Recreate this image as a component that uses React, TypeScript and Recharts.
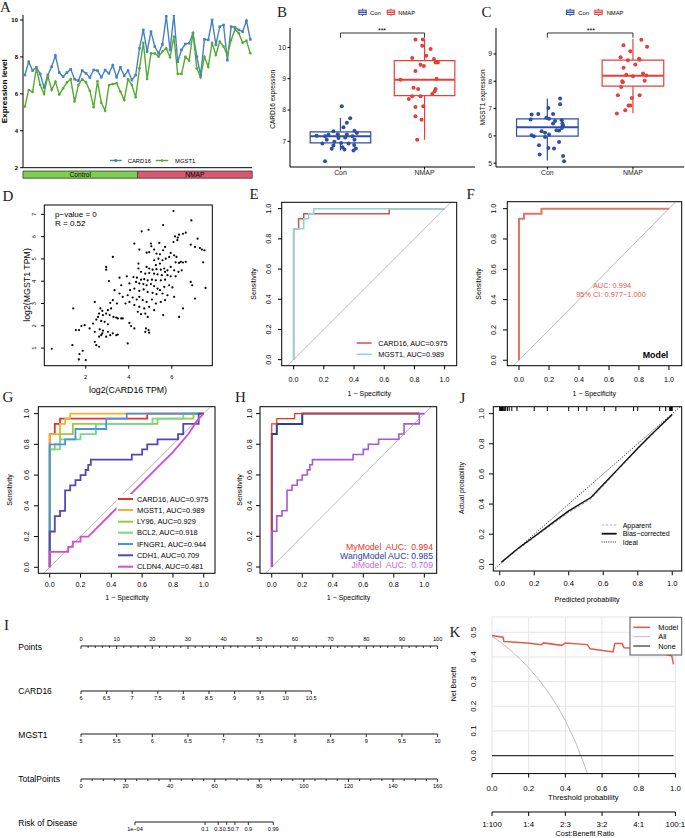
import React from 'react';
import {
  ComposedChart,
  Line,
  Scatter,
  XAxis,
  YAxis,
  ReferenceArea,
  ReferenceLine,
  CartesianGrid,
} from 'recharts';

const SANS = '"Liberation Sans", Arial, Helvetica, sans-serif';
const SERIF = '"Liberation Serif", "Times New Roman", serif';

// ---------- A: expression of the two genes per sample ----------
const card16Expr = [
  7.02, 7.73, 7.26, 7.44, 7.08, 6.35, 7.02, 7.47, 8.07, 7.15, 6.93, 7.15, 7.33, 6.79, 6.71,
  7.26, 7.11, 6.88, 7.29, 7.26, 6.9, 7.29, 7.11, 7.55, 6.9, 7.44, 6.97, 7.26, 6.75, 7.02,
  8.47, 9.46, 8.29, 9.37, 8.56, 8.19, 8.68, 10.2, 8.38, 10.27, 7.74, 8.38, 8.7, 8.74, 9.28,
  8.01, 7.02, 8.95, 8.92, 10.0, 8.65, 9.64, 9.73, 7.83, 9.64, 9.6, 9.46, 9.37, 9.96, 8.95,
];
const mgst1Expr = [
  5.31, 6.21, 6.1, 7.38, 6.48, 5.99, 6.97, 6.21, 6.66, 5.96, 6.3, 6.62, 6.8, 5.58, 6.48,
  6.79, 6.62, 6.17, 5.27, 6.68, 5.52, 5.09, 6.48, 6.53, 6.57, 6.12, 5.67, 6.79, 6.48, 5.81,
  7.38, 8.77, 6.8, 8.19, 8.19, 8.01, 8.29, 8.47, 7.98, 9.1, 7.08, 7.08, 8.01, 7.8, 9.31,
  7.38, 6.9, 8.01, 7.47, 8.77, 8.1, 8.83, 8.56, 8.1, 8.92, 9.49, 9.28, 8.77, 8.88, 8.2,
];
const sampleGroups = [
  { name: 'Control', from: 0.5, to: 30.5 },
  { name: 'NMAP', from: 30.5, to: 60.5 },
];
const exprRows = card16Expr.map((v, i) => ({ x: i + 1, card16: v, mgst1: mgst1Expr[i] }));

// ---------- B / C: boxplots  [low whisker, q1, median, q3, high whisker] ----------
const groups = ['Con', 'NMAP'];
const card16Box = [
  [6.71, 6.95, 7.16, 7.3, 7.75],
  [7.05, 8.46, 8.97, 9.58, 10.25],
];
const mgst1Box = [
  [5.1, 5.99, 6.32, 6.62, 7.37],
  [6.83, 7.82, 8.2, 8.77, 9.55],
];
// jittered points: [offset from group centre, value]
const card16Con = [
  [0.016, 8.12], [0.116, 7.74], [0.076, 7.59], [0.036, 7.45], [0.167, 7.34], [-0.084, 7.32],
  [0.195, 7.27], [-0.143, 7.21], [-0.032, 7.23], [0.076, 7.22], [-0.283, 7.18], [-0.183, 7.16],
  [0.143, 7.16], [-0.024, 7.11], [0.056, 7.12], [-0.163, 7.05], [0.167, 7.05], [-0.072, 6.99],
  [0.008, 6.95], [0.096, 6.93], [-0.215, 6.93], [-0.084, 6.87], [0.163, 6.88], [0.024, 6.81],
  [-0.104, 6.76], [0.183, 6.77], [0.048, 6.74], [0.155, 6.71], [-0.183, 6.36],
];
const card16Nmap = [
  [-0.108, 10.25], [-0.02, 10.25], [-0.028, 10.05], [0.072, 9.95], [0.02, 9.73], [-0.147, 9.66],
  [0.112, 9.63], [0.131, 9.52], [0.159, 9.52], [-0.048, 9.45], [-0.008, 9.41], [-0.108, 9.25],
  [-0.287, 8.97], [0.143, 9.0], [-0.131, 8.71], [-0.076, 8.67], [0.131, 8.67], [0.12, 8.6],
  [0.092, 8.51], [-0.147, 8.44], [-0.048, 8.44], [-0.187, 8.35], [-0.108, 8.1], [-0.016, 8.12],
  [-0.108, 7.8], [-0.036, 7.69], [-0.088, 7.05],
];
const mgst1Con = [
  [0.149, 7.37], [0.149, 7.16], [0.012, 7.02], [-0.184, 6.78], [-0.106, 6.8], [0.067, 6.8],
  [-0.012, 6.66], [0.02, 6.63], [-0.196, 6.6], [0.169, 6.57], [0.09, 6.54], [0.067, 6.45],
  [0.176, 6.45], [0.184, 6.38], [0.169, 6.29], [-0.067, 6.17], [-0.027, 6.11], [0.106, 6.21],
  [0.137, 6.2], [-0.184, 6.02], [-0.157, 5.99], [-0.027, 5.96], [0.02, 6.05], [0.176, 6.35],
  [-0.098, 5.66], [0.137, 5.78], [0.012, 5.56], [0.078, 5.54], [-0.09, 5.32], [0.184, 5.26],
  [0.196, 5.07],
];
const mgst1Nmap = [
  [0.098, 9.52], [-0.11, 9.32], [0.165, 9.26], [-0.031, 9.1], [-0.145, 8.88], [-0.059, 8.77],
  [0.078, 8.79], [0.071, 8.82], [0.027, 8.61], [-0.11, 8.49], [0.118, 8.28], [-0.078, 8.24],
  [0, 8.18], [0.157, 8.21], [-0.125, 8.0], [-0.118, 7.96], [0.137, 8.02], [-0.137, 7.79],
  [-0.176, 7.49], [0.078, 7.49], [-0.012, 7.39], [-0.051, 7.11], [-0.031, 7.11], [-0.09, 6.94],
  [-0.188, 6.82],
];

// ---------- D: log2(CARD16 TPM) vs log2(MGST1 TPM) ----------
const tpmPairs = [
  [6.08, 7.15], [6.91, 6.73], [5.6, 6.52], [4.92, 6.31], [4.6, 6.24], [6.65, 6.18], [6.52, 6.13],
  [6.34, 6.09], [6.15, 6.01], [6.28, 5.96], [6.26, 5.84], [6.08, 5.76], [7.2, 5.91], [4.26, 5.69],
  [5.42, 5.72], [5.03, 5.69], [5.05, 5.57], [6.88, 5.64], [7.31, 5.49], [7.4, 5.42], [7.52, 5.39],
  [7.08, 5.54], [5.6, 5.39], [5.69, 5.54], [5.18, 5.42], [4.83, 5.28], [4.95, 5.31], [5.29, 5.24],
  [5.45, 5.21], [4.49, 5.42], [3.26, 5.09], [5.95, 5.27], [6.11, 5.16], [6.22, 5.09], [6.42, 4.87],
  [6.52, 4.84], [6.65, 4.87], [6.34, 4.82], [6.18, 4.85], [7.46, 4.85], [5.88, 5.09], [5.72, 5.01],
  [5.57, 4.94], [5.38, 5.01], [5.18, 4.94], [5.45, 4.79], [5.26, 4.72], [4.45, 4.79], [2.95, 4.64],
  [2.95, 4.52], [4.83, 4.64], [4.95, 4.57], [5.11, 4.52], [5.29, 4.54], [5.49, 4.52], [5.65, 4.57],
  [5.8, 4.49], [5.69, 4.42], [5.95, 4.64], [6.11, 4.49], [6.31, 4.42], [6.46, 4.49], [4.45, 4.57],
  [4.57, 4.42], [4.77, 4.34], [4.95, 4.37], [5.18, 4.34], [5.34, 4.31], [5.54, 4.27], [5.8, 4.27],
  [5.95, 4.22], [6.18, 4.22], [4.22, 4.19], [4.38, 4.16], [4.57, 4.07], [4.72, 4.09], [4.88, 4.04],
  [5.08, 4.07], [5.26, 4.04], [5.49, 4.04], [5.69, 4.07], [3.57, 4.16], [3.91, 4.22], [3.08, 4.01],
  [4.34, 3.97], [4.49, 3.9], [4.68, 3.87], [4.83, 3.82], [5.03, 3.87], [5.18, 3.78], [5.34, 3.67],
  [5.45, 3.6], [5.65, 3.75], [5.88, 3.82], [6.03, 3.72], [6.88, 3.97], [6.95, 3.82], [7.57, 3.7],
  [3.65, 3.82], [4.03, 3.9], [4.26, 3.67], [4.06, 3.6], [4.49, 3.57], [4.69, 3.63], [4.88, 3.52],
  [5.11, 3.48], [5.29, 3.42], [5.57, 3.45], [5.8, 3.37], [6.11, 3.3], [7.08, 3.22], [3.34, 3.6],
  [3.57, 3.45], [3.72, 3.3], [3.95, 3.37], [4.18, 3.27], [4.37, 3.18], [4.49, 3.3], [4.65, 3.15],
  [4.83, 3.07], [5.08, 3.18], [5.26, 3.0], [5.49, 3.07], [5.69, 3.15], [3.26, 3.15], [3.14, 3.03],
  [3.45, 3.0], [3.85, 3.0], [4.03, 3.07], [4.26, 2.93], [4.49, 2.85], [4.72, 2.78], [4.95, 2.85],
  [5.18, 2.7], [5.6, 2.48], [6.52, 2.78], [4.42, 2.63], [4.57, 2.52], [4.77, 2.55], [4.88, 2.4],
  [1.42, 2.78], [2.42, 3.07], [2.68, 2.78], [2.77, 2.67], [3.03, 2.7], [3.18, 2.78], [2.95, 2.55],
  [2.62, 2.55], [2.57, 2.4], [2.8, 2.48], [3.11, 2.48], [3.29, 2.4], [3.49, 2.33], [3.65, 2.33],
  [3.72, 2.33], [3.42, 2.37], [2.34, 2.1], [2.49, 2.28], [2.72, 2.22], [2.88, 2.18], [3.03, 2.07],
  [4.03, 2.13], [4.11, 1.99], [4.26, 1.88], [4.8, 1.88], [4.77, 1.73], [4.92, 1.81], [4.95, 1.69],
  [6.34, 2.4], [1.95, 2.03], [1.8, 1.99], [1.54, 1.81], [1.69, 1.81], [2.18, 1.88], [2.42, 1.73],
  [2.65, 1.84], [2.8, 1.78], [3.03, 1.73], [3.26, 1.66], [3.42, 1.58], [2.72, 1.58], [2.95, 1.51],
  [3.14, 1.58], [2.62, 1.51], [2.77, 1.66], [2.42, 1.28], [2.49, 1.13], [2.62, 1.06], [3.95, 1.21],
  [3.49, 1.61], [1.38, 1.13], [0.42, 0.97], [1.86, 0.88], [1.71, 0.73], [1.68, 0.49], [2.0, 0.46],
];

// ---------- ROC curves: [1 - specificity, sensitivity] ----------
const rocCard16 = [[0, 0], [0, 0.867], [0.033, 0.867], [0.033, 0.933], [0.067, 0.933], [0.067, 0.967], [0.633, 0.967], [0.633, 1], [1, 1]];
const rocMgst1 = [[0, 0], [0, 0.867], [0.067, 0.867], [0.067, 0.933], [0.1, 0.933], [0.1, 0.967], [0.133, 0.967], [0.133, 1], [1, 1]];
const rocModel = [[0, 0], [0, 0.933], [0.033, 0.933], [0.033, 0.967], [0.15, 0.967], [0.15, 1], [1, 1]];
const rocLy96 = [[0, 0], [0, 0.767], [0.033, 0.767], [0.033, 0.8], [0.067, 0.8], [0.067, 0.867], [0.15, 0.867], [0.15, 0.933], [0.7, 0.933], [0.7, 0.967], [0.933, 0.967], [0.933, 1], [1, 1]];
const rocBcl2 = [[0, 0], [0, 0.767], [0.067, 0.767], [0.067, 0.833], [0.2, 0.833], [0.2, 0.867], [0.3, 0.867], [0.3, 0.933], [0.667, 0.933], [0.667, 0.967], [0.867, 0.967], [0.867, 1], [1, 1]];
const rocIfngr1 = [[0, 0], [0, 0.8], [0.1, 0.8], [0.1, 0.833], [0.167, 0.833], [0.167, 0.9], [0.367, 0.9], [0.367, 0.967], [0.5, 0.967], [0.5, 1], [1, 1]];
const rocCdh1 = [
  [0, 0], [0, 0.233], [0.033, 0.233], [0.033, 0.333], [0.067, 0.333], [0.067, 0.367], [0.1, 0.367],
  [0.1, 0.5], [0.133, 0.5], [0.133, 0.533], [0.167, 0.533], [0.167, 0.567], [0.2, 0.567], [0.2, 0.6],
  [0.233, 0.6], [0.233, 0.633], [0.25, 0.633], [0.25, 0.667], [0.267, 0.667], [0.267, 0.7], [0.533, 0.7],
  [0.533, 0.733], [0.6, 0.733], [0.6, 0.767], [0.633, 0.767], [0.633, 0.8], [0.7, 0.8], [0.7, 0.833],
  [0.833, 0.833], [0.833, 0.867], [0.867, 0.867], [0.867, 0.933], [0.967, 0.933], [0.967, 1], [1, 1],
];
const rocCldn4 = [
  [0, 0], [0, 0.1], [0.12, 0.1], [0.12, 0.133], [0.15, 0.133], [0.15, 0.167], [0.2, 0.167], [0.2, 0.2],
  [0.25, 0.2], [0.3, 0.25], [0.4, 0.35], [0.5, 0.45], [0.6, 0.55], [0.7, 0.65], [0.8, 0.75],
  [0.9, 0.867], [0.967, 0.967], [1, 1],
];
const rocWang = [[0, 0], [0, 0.867], [0.033, 0.867], [0.033, 0.933], [0.2, 0.933], [0.2, 1], [0.967, 1]];

const geneNames = ['CARD16', 'MGST1', 'LY96', 'BCL2', 'IFNGR1', 'CDH1', 'CLDN4'];
const geneAuc = ['0.975', '0.989', '0.929', '0.918', '0.944', '0.709', '0.481'];
const geneCurves = [rocCard16, rocMgst1, rocLy96, rocBcl2, rocIfngr1, rocCdh1, rocCldn4];
const geneColors = ['#E8312B', '#EDB230', '#9CCB3A', '#74D98F', '#4B93DA', '#5347B2', '#D64BD1'];

const modelNames = ['MyModel  AUC:  0.994', 'WangModel AUC: 0.985', 'JiModel  AUC:  0.709'];
const modelCurves = [rocModel, rocWang, rocCdh1];

// ---------- J: calibration ----------
const calX = [0.01, 0.1, 0.2, 0.3, 0.4, 0.53, 0.6, 0.7, 0.8, 0.9, 1.0];
const calBias = [0.015, 0.1, 0.185, 0.27, 0.355, 0.445, 0.53, 0.65, 0.77, 0.885, 0.995];
const calApparent = [0.012, 0.093, 0.178, 0.262, 0.345, 0.435, 0.52, 0.643, 0.765, 0.882, 0.99];
const calRug = [0, 0.003, 0.006, 0.01, 0.013, 0.016, 0.02, 0.025, 0.03, 0.035, 0.045, 0.055, 0.07, 0.1, 0.2, 0.276, 0.4, 0.456, 0.505, 0.606, 0.673, 0.776, 0.8, 0.927, 0.962, 0.985, 0.99, 0.993, 0.996, 1.0];

// ---------- I: nomogram scales ----------
const pointsTicks = Array.from({ length: 51 }, (_, i) => i * 2);
const card16Scale = [6, 6.5, 7, 7.5, 8, 8.5, 9, 9.5, 10, 10.5];
const mgst1Scale = [5, 5.5, 6, 6.5, 7, 7.5, 8, 8.5, 9, 9.5, 10];
const totalTicks = Array.from({ length: 33 }, (_, i) => i * 5);
const riskLabels = ['1e\u221204', '0.1', '0.3', '0.5', '0.7', '0.9', '0.99'];
const riskAtPoints = [24.4, 55.8, 61.7, 65.5, 69.2, 75.2, 86.4];

// ---------- K: decision curve ----------
const dcaModel = [
  [0, 0.487], [0.06, 0.48], [0.065, 0.463], [0.19, 0.457], [0.27, 0.45], [0.28, 0.457], [0.38, 0.447],
  [0.4, 0.457], [0.52, 0.45], [0.535, 0.433], [0.66, 0.42], [0.67, 0.455], [0.71, 0.455], [0.72, 0.437],
  [0.8, 0.435], [0.9, 0.42], [0.95, 0.41], [0.98, 0.405], [0.99, 0.37],
];
const dcaAll = [
  [0, 0.485], [0.05, 0.458], [0.1, 0.428], [0.15, 0.394], [0.2, 0.356], [0.25, 0.313], [0.3, 0.264],
  [0.35, 0.208], [0.4, 0.142], [0.45, 0.064], [0.5, -0.03], [0.52, -0.073],
];
const dcaNone = [[0, 0], [0.99, 0]];
const thresholdTicks = [0, 0.2, 0.4, 0.6, 0.8, 1];
const costBenefit = ['1:100', '1:4', '2:3', '3:2', '4:1', '100:1'];

// ---------- styling ----------
const A_BLUE = '#4682C0';
const A_GREEN = '#55AA2F';
const stripFill = ['#7DCF4D', '#D9586F'];
const grpColors = ['#2F4FA5', '#E2413A'];
const E_RED = '#CF5547';
const E_CYAN = '#8AD5DA';
const F_RED = '#E57563';
const H_COLORS = ['#E8341F', '#2A3C9C', '#A857D6'];
const H_TEXT = ['#E8341F', '#2A3C9C', '#C46AE6'];
const H_WIDTH = [1.2, 2, 1.6];
const K_RED = '#E35A4D';

const unitTicks = [0, 0.2, 0.4, 0.6, 0.8, 1];
const f1 = (v: number) => v.toFixed(1);
const fi = (v: number) => String(v);
const toXY = (pts: number[][]) => pts.map(([x, y]) => ({ x, y }));

type Box = { l: number; t: number; r: number; b: number };
const place = (box: Box, yw: number, xh: number, mt = 1, mr = 1) => ({
  style: { position: 'absolute' as const, left: box.l - yw, top: box.t - mt },
  width: box.r - box.l + yw + mr,
  height: box.b - box.t + mt + xh,
  margin: { top: mt, right: mr, bottom: 0, left: 0 },
});

const bottomTick = (fs: number, fmt: (v: any) => string, fill = '#000') => (p: any) => (
  <text x={p.x} y={p.y} dy="0.71em" textAnchor="middle" fontSize={fs} fontFamily={SANS} fill={fill}>
    {fmt(p.payload.value)}
  </text>
);
const leftTick = (fs: number, fmt: (v: any) => string, fill = '#000', bold = false) => (p: any) => (
  <text x={p.x} y={p.y} dy="0.35em" textAnchor="end" fontSize={fs} fontFamily={SANS} fill={fill} fontWeight={bold ? 'bold' : 'normal'}>
    {fmt(p.payload.value)}
  </text>
);
const rotTick = (fs: number, fmt: (v: any) => string) => (p: any) => (
  <text x={p.x} y={p.y} textAnchor="middle" fontSize={fs} fontFamily={SANS} fill="#000" transform={`rotate(-90 ${p.x} ${p.y})`}>
    {fmt(p.payload.value)}
  </text>
);
const dotShape = (c: string, r: number) => (p: any) => <circle cx={p.cx} cy={p.cy} r={r} fill={c} />;

function PanelA() {
  const p = place({ l: 23.3, t: 15, r: 252.5, b: 167.7 }, 20, 14, 2, 2);
  return (
    <div style={p.style}>
      <ComposedChart width={p.width} height={p.height} margin={p.margin} data={exprRows}>
        <XAxis type="number" dataKey="x" domain={[0.5, 60.5]} allowDataOverflow ticks={exprRows.map((r) => r.x)} interval={0} tick={false} tickSize={3} tickLine={{ stroke: '#000', strokeWidth: 1.4 }} axisLine={{ stroke: '#000' }} height={14} />
        <YAxis type="number" domain={[2, 10.27]} allowDataOverflow ticks={[2, 4, 6, 8, 10]} interval={0} width={20} tickSize={3} tickMargin={2} tick={leftTick(6, fi, '#000', true)} tickLine={{ stroke: '#000' }} axisLine={{ stroke: '#000' }} />
        {sampleGroups.map((g, i) => (
          <ReferenceArea key={g.name} x1={g.from} x2={g.to} y1={1.43} y2={1.82} ifOverflow="visible" fill={stripFill[i]} fillOpacity={1} stroke="#3a3a3a" strokeWidth={0.8}
            label={{ value: g.name, position: 'center', fontSize: 6.7, fill: '#000', fontFamily: SANS }} />
        ))}
        <Line dataKey="card16" stroke={A_BLUE} strokeWidth={1.4} isAnimationActive={false}
          dot={(d: any) => <rect key={`c${d.index}`} x={d.cx - 1.3} y={d.cy - 1.3} width={2.6} height={2.6} fill={A_BLUE} />} />
        <Line dataKey="mgst1" stroke={A_GREEN} strokeWidth={1.4} isAnimationActive={false}
          dot={(d: any) => <circle key={`m${d.index}`} cx={d.cx} cy={d.cy} r={1.3} fill={A_GREEN} />} />
      </ComposedChart>
    </div>
  );
}

function BoxPanel({ box, yDom, yTicks, stats, pts, sig }: any) {
  const p = place(box, 22, 14, 2, 0.5);
  const hw = 0.36;
  return (
    <div style={p.style}>
      <ComposedChart width={p.width} height={p.height} margin={p.margin}>
        <XAxis type="number" dataKey="x" domain={[0.4, 2.6]} allowDataOverflow ticks={[1, 2]} interval={0} height={14} tickSize={2.5} tickMargin={1.1}
          tick={bottomTick(6.9, (v) => groups[v - 1], '#222')} tickLine={{ stroke: '#000' }} axisLine={{ stroke: '#000' }} />
        <YAxis type="number" dataKey="y" domain={yDom} allowDataOverflow ticks={yTicks} interval={0} width={22} tickSize={2.5} tickMargin={1.5}
          tick={leftTick(6.9, fi, '#222')} tickLine={{ stroke: '#000' }} axisLine={{ stroke: '#000' }} />
        <ReferenceLine segment={[{ x: 1, y: sig[0] }, { x: 2, y: sig[0] }]} stroke="#333" ifOverflow="visible" />
        <ReferenceLine segment={[{ x: 1, y: sig[0] }, { x: 1, y: sig[1] }]} stroke="#333" ifOverflow="visible" />
        <ReferenceLine segment={[{ x: 2, y: sig[0] }, { x: 2, y: sig[1] }]} stroke="#333" ifOverflow="visible" />
        {stats.map((s: number[], gi: number) => {
          const cx = gi + 1;
          const c = grpColors[gi];
          return [
            <ReferenceLine key={`lo${gi}`} segment={[{ x: cx, y: s[0] }, { x: cx, y: s[1] }]} stroke={c} strokeWidth={1.2} ifOverflow="visible" />,
            <ReferenceLine key={`hi${gi}`} segment={[{ x: cx, y: s[3] }, { x: cx, y: s[4] }]} stroke={c} strokeWidth={1.2} ifOverflow="visible" />,
            <ReferenceArea key={`bx${gi}`} x1={cx - hw} x2={cx + hw} y1={s[1]} y2={s[3]} fill="none" fillOpacity={0} stroke={c} strokeWidth={1.2} ifOverflow="visible" />,
            <ReferenceLine key={`md${gi}`} segment={[{ x: cx - hw, y: s[2] }, { x: cx + hw, y: s[2] }]} stroke={c} strokeWidth={2} ifOverflow="visible" />,
          ];
        })}
        {pts.map((g: number[][], gi: number) => (
          <Scatter key={`pts${gi}`} data={g.map(([o, v]) => ({ x: gi + 1 + o, y: v }))} dataKey="y" fill={grpColors[gi]} shape={dotShape(grpColors[gi], 2)} isAnimationActive={false} />
        ))}
      </ComposedChart>
    </div>
  );
}

function PanelD() {
  const p = place({ l: 44.3, t: 205, r: 212.3, b: 365.7 }, 14, 18, 1, 1);
  return (
    <div style={p.style}>
      <ComposedChart width={p.width} height={p.height} margin={p.margin}>
        <XAxis type="number" dataKey="x" domain={[0.06, 7.87]} allowDataOverflow ticks={[2, 4, 6]} interval={0} height={18} axisLine={false} tickSize={3} tickMargin={6.3} tickLine={{ stroke: '#000' }} tick={bottomTick(5.8, fi)} />
        <YAxis type="number" dataKey="y" domain={[0.21, 7.42]} allowDataOverflow ticks={[1, 2, 3, 4, 5, 6, 7]} interval={0} width={14} axisLine={false} tickSize={3} tickMargin={4.6} tickLine={{ stroke: '#000' }} tick={rotTick(5.8, fi)} />
        <Scatter data={toXY(tpmPairs)} dataKey="y" fill="#000" shape={dotShape('#000', 1.1)} isAnimationActive={false} />
      </ComposedChart>
    </div>
  );
}

function RPlot({ box, xDom, yDom, xTicks = unitTicks, yTicks = unitTicks, fs = 7.2, xm, ym, fmt = f1, yw = 20, xh = 22, children }: any) {
  const p = place(box, yw, xh, 1, 1);
  return (
    <div style={p.style}>
      <ComposedChart width={p.width} height={p.height} margin={p.margin}>
        <XAxis type="number" dataKey="x" domain={xDom} allowDataOverflow ticks={xTicks} interval={0} height={xh} axisLine={false} tickSize={4} tickMargin={xm} tickLine={{ stroke: '#000' }} tick={bottomTick(fs, fmt)} />
        <YAxis type="number" dataKey="y" domain={yDom} allowDataOverflow ticks={yTicks} interval={0} width={yw} axisLine={false} tickSize={4} tickMargin={ym} tickLine={{ stroke: '#000' }} tick={rotTick(fs, fmt)} />
        {children}
      </ComposedChart>
    </div>
  );
}

const diag = (lo: number, hi: number, props: any = {}) => (
  <ReferenceLine segment={[{ x: lo, y: lo }, { x: hi, y: hi }]} stroke="#BEBEBE" strokeWidth={1} {...props} />
);
const curve = (key: string, pts: number[][], color: string, w: number, extra: any = {}) => (
  <Line key={key} data={toXY(pts)} dataKey="y" stroke={color} strokeWidth={w} dot={false} isAnimationActive={false} {...extra} />
);

function PanelK() {
  const p = place({ l: 492.3, t: 616.7, r: 675.7, b: 773.3 }, 26, 64.4, 1, 10);
  return (
    <div style={p.style}>
      <ComposedChart width={p.width} height={p.height} margin={p.margin}>
        <CartesianGrid stroke="#E6E6E6" />
        <XAxis type="number" dataKey="x" domain={[0, 1]} allowDataOverflow ticks={thresholdTicks} interval={0} height={38.4} tickSize={4} tickMargin={8.2} tickLine={{ stroke: '#000' }} axisLine={{ stroke: '#000' }} tick={bottomTick(7.9, f1)} />
        <XAxis xAxisId="cb" type="number" dataKey="x" domain={[0, 1]} allowDataOverflow ticks={thresholdTicks} interval={0} height={26} tickSize={4} tickMargin={5.8} tickLine={{ stroke: '#000' }} axisLine={{ stroke: '#000' }}
          tick={bottomTick(7.9, (v) => costBenefit[thresholdTicks.indexOf(v)])} />
        <YAxis type="number" dataKey="y" domain={[-0.073, 0.562]} allowDataOverflow ticks={[0, 0.1, 0.2, 0.3, 0.4, 0.5]} interval={0} width={26} tickSize={0} tickMargin={15.6} tickLine={false} axisLine={false} tick={rotTick(7.9, f1)} />
        {curve('all', dcaAll, '#BDBDBD', 1)}
        {curve('none', dcaNone, '#333', 1.2)}
        {curve('model', dcaModel, K_RED, 1.5)}
      </ComposedChart>
    </div>
  );
}

function NomoRow({ x0, x1, lineY, domain, ticks, fmt, top = false }: any) {
  const m = 12;
  const chartTop = top ? lineY - 12 : lineY - 2;
  const tick = (p: any) => {
    const lab = fmt(p.payload.value);
    return (
      <g>
        <line x1={p.x} x2={p.x} y1={p.y} y2={p.y + (lab ? 3 : 2)} stroke="#000" strokeWidth={0.8} />
        {lab ? (
          <text x={p.x} y={top ? p.y - 5 : p.y + 9.3} textAnchor="middle" fontSize={5.6} fontFamily={SANS} fill="#000">{lab}</text>
        ) : null}
      </g>
    );
  };
  return (
    <div style={{ position: 'absolute', left: x0 - m, top: chartTop }}>
      <ComposedChart width={x1 - x0 + 2 * m} height={16} margin={{ top: 0, right: m, bottom: 0, left: m }}>
        <XAxis type="number" dataKey="x" domain={domain} allowDataOverflow ticks={ticks} interval={0} orientation={top ? 'top' : 'bottom'} height={top ? 12 : 14}
          tickSize={0} tickMargin={0} tickLine={false} axisLine={{ stroke: '#000', strokeWidth: 0.9 }} tick={tick} />
        <YAxis hide domain={[0, 1]} />
        <Line data={[{ x: domain[0], y: 0 }, { x: domain[1], y: 0 }]} dataKey="y" stroke="none" dot={false} isAnimationActive={false} />
      </ComposedChart>
    </div>
  );
}

const Txt = ({ x, y, s, a = 'start', rot = false, w = 'normal', f = '#000', fam = SANS, children }: any) => (
  <text x={x} y={y} fontSize={s} textAnchor={a} fontWeight={w} fill={f} fontFamily={fam}
    transform={rot ? `rotate(-90 ${x} ${y})` : undefined} style={{ whiteSpace: 'pre' }}>
    {children}
  </text>
);

function BoxKey({ x, c }: { x: number; c: string }) {
  return (
    <g stroke={c} strokeWidth={1} fill="none">
      <line x1={x + 4.2} x2={x + 4.2} y1={8.6} y2={16} />
      <rect x={x + 0.5} y={10.2} width={7.4} height={4.2} fill="#fff" />
      <line x1={x + 0.5} x2={x + 7.9} y1={12.3} y2={12.3} strokeWidth={1.4} />
    </g>
  );
}

const frames: Box[] = [
  { l: 44.3, t: 205, r: 212.3, b: 365.7 },
  { l: 281.7, t: 202.3, r: 456.7, b: 365.7 },
  { l: 507.3, t: 201.7, r: 681.7, b: 365.7 },
  { l: 38.3, t: 406.7, r: 215, b: 573.3 },
  { l: 260, t: 406.7, r: 436.7, b: 573.3 },
  { l: 493.3, t: 406.7, r: 681.7, b: 571 },
];

export default function App() {
  const gRows = [499, 510, 521.7, 532.7, 544, 555.3, 566.7];
  const letters: [string, number, number][] = [
    ['A', 0, 11.7], ['B', 277, 17.3], ['C', 481.5, 17.3], ['D', 2.5, 200.5], ['E', 249.5, 199], ['F', 466.5, 198.5],
    ['G', 2.5, 402], ['H', 235, 402], ['J', 459.5, 402.5], ['I', 4, 630], ['K', 449.5, 636.5],
  ];
  return (
    <div style={{ position: 'absolute', left: 0, top: 0, width: 685, height: 838, background: '#fff', overflow: 'hidden' }}>
      <PanelA />
      <BoxPanel box={{ l: 290, t: 28.3, r: 475, b: 167.3 }} yDom={[6.18, 10.62]} yTicks={[7, 8, 9, 10]} stats={card16Box} pts={[card16Con, card16Nmap]} sig={[10.46, 10.31]} />
      <BoxPanel box={{ l: 496, t: 28.3, r: 684.3, b: 167.3 }} yDom={[4.86, 9.95]} yTicks={[5, 6, 7, 8, 9]} stats={mgst1Box} pts={[mgst1Con, mgst1Nmap]} sig={[9.767, 9.595]} />
      <PanelD />
      <RPlot box={{ l: 281.7, t: 202.3, r: 456.7, b: 365.7 }} xDom={[-0.077, 1.082]} yDom={[-0.038, 1.044]} xm={7.7} ym={6.7}>
        {diag(-0.038, 1.044)}
        {curve('e1', rocCard16, E_RED, 1.5)}
        {curve('e2', rocMgst1, E_CYAN, 1.5)}
      </RPlot>
      <RPlot box={{ l: 507.3, t: 201.7, r: 681.7, b: 365.7 }} xDom={[-0.08, 1.083]} yDom={[-0.038, 1.044]} xm={7.3} ym={7.3}>
        {diag(-0.038, 1.044)}
        {curve('f1', rocModel, F_RED, 2)}
      </RPlot>
      <RPlot box={{ l: 38.3, t: 406.7, r: 215, b: 573.3 }} xDom={[-0.076, 1.071]} yDom={[-0.041, 1.043]} xm={4.6} ym={5}>
        {diag(-0.041, 1.043)}
        {geneCurves.map((c, i) => curve(`g${i}`, c, geneColors[i], 1.8))}
      </RPlot>
      <RPlot box={{ l: 260, t: 406.7, r: 436.7, b: 573.3 }} xDom={[-0.077, 1.081]} yDom={[-0.043, 1.043]} xm={4.6} ym={3.7}>
        {diag(-0.043, 1.043)}
        {[1, 0, 2].map((i) => curve(`h${i}`, modelCurves[i], H_COLORS[i], H_WIDTH[i]))}
      </RPlot>
      <RPlot box={{ l: 493.3, t: 406.7, r: 681.7, b: 571 }} xDom={[-0.039, 1.053]} yDom={[-0.046, 1.044]} xm={5.2} ym={5.3} fs={7.6}>
        {diag(-0.039, 1.044, { stroke: '#000', strokeDasharray: '1 1.6', strokeWidth: 0.9 })}
        {curve('app', calX.map((x, i) => [x, calApparent[i]]), '#A0A0A0', 1, { strokeDasharray: '3 1.5' })}
        {curve('bias', calX.map((x, i) => [x, calBias[i]]), '#111', 1.4)}
        <Scatter data={calRug.map((x) => ({ x, y: 1.044 }))} dataKey="y" isAnimationActive={false}
          shape={(p: any) => <line x1={p.cx} x2={p.cx} y1={p.cy} y2={p.cy + 4} stroke="#000" strokeWidth={1} />} />
      </RPlot>
      <PanelK />

      <NomoRow x0={80.7} x1={437.3} lineY={646} domain={[0, 100]} ticks={pointsTicks} fmt={(v: number) => (v % 10 === 0 ? String(v) : '')} top />
      <NomoRow x0={80.7} x1={311} lineY={691} domain={[6, 10.5]} ticks={card16Scale} fmt={fi} />
      <NomoRow x0={80.7} x1={437.3} lineY={734.3} domain={[5, 10]} ticks={mgst1Scale} fmt={fi} />
      <NomoRow x0={80.7} x1={437.3} lineY={779} domain={[0, 160]} ticks={totalTicks} fmt={(v: number) => (v % 20 === 0 ? String(v) : '')} />
      <NomoRow x0={135} x1={273.3} lineY={822.3} domain={[riskAtPoints[0], riskAtPoints[riskAtPoints.length - 1]]} ticks={riskAtPoints}
        fmt={(v: number) => riskLabels[riskAtPoints.indexOf(v)]} />

      <svg width={685} height={838} style={{ position: 'absolute', left: 0, top: 0, pointerEvents: 'none' }}>
        {letters.map(([l, x, y]) => (
          <Txt key={l} x={x} y={y} s={15} fam={SERIF} f="#222">{l}</Txt>
        ))}

        {/* A */}
        <Txt x={6.6} y={91.3} s={8.1} w="bold" a="middle" rot>Expression level</Txt>
        <line x1={110} x2={121.7} y1={160.5} y2={160.5} stroke={A_BLUE} strokeWidth={1.4} />
        <rect x={114.5} y={159.2} width={2.6} height={2.6} fill={A_BLUE} />
        <Txt x={127.7} y={162.6} s={5.9}>CARD16</Txt>
        <line x1={155.7} x2={168.3} y1={160.5} y2={160.5} stroke={A_GREEN} strokeWidth={1.4} />
        <circle cx={162} cy={160.5} r={1.3} fill={A_GREEN} />
        <Txt x={175} y={162.6} s={5.9}>MGST1</Txt>

        {/* B, C */}
        <Txt x={275.3} y={99.3} s={6.5} a="middle" rot>CARD16 expression</Txt>
        <Txt x={382} y={33} s={7} a="middle">***</Txt>
        <BoxKey x={358.3} c={grpColors[0]} />
        <Txt x={370} y={14.7} s={5.8}>Con</Txt>
        <BoxKey x={386.7} c={grpColors[1]} />
        <Txt x={398.3} y={14.7} s={5.8}>NMAP</Txt>
        <Txt x={485.3} y={97.3} s={6.5} a="middle" rot>MGST1 expression</Txt>
        <Txt x={590.8} y={33} s={7} a="middle">***</Txt>
        <BoxKey x={566} c={grpColors[0]} />
        <Txt x={578.3} y={14.7} s={5.8}>Con</Txt>
        <BoxKey x={594.3} c={grpColors[1]} />
        <Txt x={606.7} y={14.7} s={5.8}>NMAP</Txt>

        {/* D */}
        <Txt x={55} y={216.5} s={8}>p{'\u2212'}value = 0</Txt>
        <Txt x={55} y={226} s={8}>R = 0.52</Txt>
        <Txt x={29.8} y={285} s={8.8} a="middle" rot>log2(MGST1 TPM)</Txt>
        <Txt x={128} y={393} s={8.8} a="middle">log2(CARD16 TPM)</Txt>

        {/* E */}
        <Txt x={256.2} y={284} s={7} a="middle" rot>Sensitivity</Txt>
        <Txt x={369.3} y={395.8} s={7} a="middle">1 {'\u2212'} Specificity</Txt>
        <line x1={356.7} x2={371.7} y1={343} y2={343} stroke={E_RED} strokeWidth={1.5} />
        <Txt x={378.3} y={345.6} s={7.2}>CARD16, AUC=0.975</Txt>
        <line x1={356.7} x2={371.7} y1={354.3} y2={354.3} stroke={E_CYAN} strokeWidth={1.5} />
        <Txt x={378.3} y={356.9} s={7.2}>MGST1, AUC=0.989</Txt>

        {/* F */}
        <Txt x={481.2} y={284} s={7} a="middle" rot>Sensitivity</Txt>
        <Txt x={594.3} y={395.8} s={7} a="middle">1 {'\u2212'} Specificity</Txt>
        <Txt x={612} y={288.3} s={7.4} a="middle" f="#DC5A4A">AUC: 0.994</Txt>
        <Txt x={611} y={296.7} s={7.4} a="middle" f="#DC5A4A">95% CI: 0.977{'\u2212'}1.000</Txt>
        <Txt x={655.5} y={358.3} s={8.9} a="middle" w="bold">Model</Txt>

        {/* G */}
        <Txt x={11.8} y={490} s={7} a="middle" rot>Sensitivity</Txt>
        <Txt x={127} y={599.5} s={7} a="middle">1 {'\u2212'} Specificity</Txt>
        <rect x={116.5} y={494} width={98} height={78.5} fill="#fff" />
        {geneNames.map((g, i) => (
          <g key={g}>
            <line x1={118} x2={133} y1={gRows[i]} y2={gRows[i]} stroke={geneColors[i]} strokeWidth={2} />
            <Txt x={137} y={gRows[i] + 2.6} s={7.4}>{`${g}, AUC=${geneAuc[i]}`}</Txt>
          </g>
        ))}

        {/* H */}
        <Txt x={242} y={490} s={7} a="middle" rot>Sensitivity</Txt>
        <Txt x={348.5} y={599.5} s={7} a="middle">1 {'\u2212'} Specificity</Txt>
        {modelNames.map((t, i) => (
          <Txt key={t} x={433} y={550.3 + i * 9} s={8.7} a="end" f={H_TEXT[i]}>{t}</Txt>
        ))}

        {/* J */}
        <Txt x={464.3} y={488} s={6.8} a="middle" rot>Actual probability</Txt>
        <Txt x={587} y={602} s={7.2} a="middle">Predicted probability</Txt>
        <line x1={601.7} x2={616.7} y1={525} y2={525} stroke="#A0A0A0" strokeWidth={0.9} strokeDasharray="2.5 1.5" />
        <Txt x={622.7} y={527.5} s={7}>Apparent</Txt>
        <line x1={601.7} x2={616.7} y1={533.7} y2={533.7} stroke="#111" strokeWidth={1.8} />
        <Txt x={622.7} y={536.2} s={7}>Bias{'\u2212'}corrected</Txt>
        <line x1={601.7} x2={616.7} y1={542} y2={542} stroke="#000" strokeWidth={0.9} strokeDasharray="1 1.2" />
        <Txt x={622.7} y={544.5} s={7}>Ideal</Txt>

        {/* I */}
        <Txt x={18.3} y={650} s={8.5}>Points</Txt>
        <Txt x={18.3} y={694.3} s={8.5}>CARD16</Txt>
        <Txt x={18.3} y={737.5} s={8.5}>MGST1</Txt>
        <Txt x={18.3} y={781.5} s={8.5}>TotalPoints</Txt>
        <Txt x={18.3} y={825.5} s={8.5}>Risk of Disease</Txt>

        {/* K */}
        <Txt x={456} y={684} s={7} a="middle" rot>Net Benefit</Txt>
        <Txt x={583.3} y={800} s={7.6} a="middle">Threshold probability</Txt>
        <Txt x={585} y={835.5} s={7.3} a="middle">Cost:Benefit Ratio</Txt>
        <rect x={630} y={617.3} width={51.7} height={37.7} fill="#fff" stroke="#555" strokeWidth={1} />
        <line x1={633.3} x2={650} y1={627.3} y2={627.3} stroke={K_RED} strokeWidth={1.5} />
        <Txt x={658.3} y={629.9} s={7.3}>Model</Txt>
        <line x1={633.3} x2={650} y1={636.7} y2={636.7} stroke="#BDBDBD" strokeWidth={1} />
        <Txt x={658.3} y={639.3} s={7.3}>All</Txt>
        <line x1={633.3} x2={650} y1={646} y2={646} stroke="#333" strokeWidth={1.2} />
        <Txt x={658.3} y={648.6} s={7.3}>None</Txt>

        {frames.map((b, i) => (
          <rect key={i} x={b.l} y={b.t} width={b.r - b.l} height={b.b - b.t} fill="none" stroke="#000" strokeWidth={1} />
        ))}
      </svg>
    </div>
  );
}
